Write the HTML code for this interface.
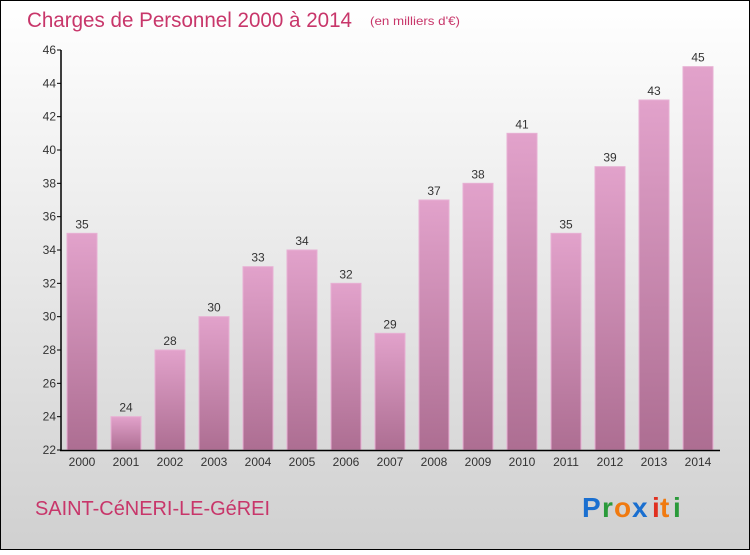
<!DOCTYPE html>
<html><head><meta charset="utf-8"><style>
body{margin:0;width:750px;height:550px;overflow:hidden;font-family:"Liberation Sans",sans-serif}
</style></head><body>
<svg width="750" height="550" xmlns="http://www.w3.org/2000/svg" id="svg">
<defs>
<linearGradient id="bg" x1="0" y1="0" x2="0" y2="1"><stop offset="0" stop-color="#ffffff"/><stop offset="1" stop-color="#d0d0d0"/></linearGradient>
<linearGradient id="bar" x1="0" y1="0" x2="0" y2="1"><stop offset="0" stop-color="#e2a2cb"/><stop offset="1" stop-color="#ad6e92"/></linearGradient>
</defs>
<rect x="0.5" y="0.5" width="749" height="549" fill="url(#bg)" stroke="#000"/>
<text x="27" y="27" font-size="21" fill="#c8366a" textLength="325" lengthAdjust="spacingAndGlyphs">Charges de Personnel 2000 à 2014</text>
<text x="370" y="25" font-size="12" fill="#c8366a" textLength="90" lengthAdjust="spacingAndGlyphs">(en milliers d'€)</text>
<text x="35" y="515" font-size="20" fill="#c8366a" textLength="235" lengthAdjust="spacingAndGlyphs">SAINT-CéNERI-LE-GéREI</text>
<g font-size="28" font-weight="bold">
<text x="582" y="517" fill="#1a6fd0">P</text><text x="602" y="517" fill="#2a9a3a">r</text><text x="614" y="517" fill="#f07a10">o</text><text x="632" y="517" fill="#1a6fd0">x</text><text x="652" y="517" fill="#e03020">i</text><text x="660" y="517" fill="#f07a10">t</text><text x="673" y="517" fill="#2a9a3a">i</text>
</g>
<g id="g"></g>
</svg>
<script>
const years=["2000","2001","2002","2003","2004","2005","2006","2007","2008","2009","2010","2011","2012","2013","2014"];
const values=[35,24,28,30,33,34,32,29,37,38,41,35,39,43,45];
const yTicks=[22,24,26,28,30,32,34,36,38,40,42,44,46];
const NS="http://www.w3.org/2000/svg",g=document.getElementById('g');
const y=v=>450-(v-22)*400/24, x=i=>82+i*44;
function el(t,a,txt){const e=document.createElementNS(NS,t);for(const k in a)e.setAttribute(k,a[k]);if(txt!=null)e.textContent=txt;g.appendChild(e);return e;}
values.forEach((v,i)=>{
 const r=el('rect',{x:x(i)-15,y:y(v),width:30,height:450-y(v),fill:'url(#bar)',stroke:'#e8b0d4','stroke-width':1});
 
 
 const t=el('text',{x:x(i),y:y(v)-5,'font-size':12,'text-anchor':'middle',fill:'#333'},v);
 
 
 const xl=el('text',{x:x(i),y:466,'font-size':12,'text-anchor':'middle',fill:'#333'},years[i]);
 
 
});
yTicks.forEach(v=>{
 const l=el('line',{x1:57,x2:61,y1:y(v),y2:y(v),stroke:'#000'});
 
 
 const t=el('text',{x:56,y:y(v)+4,'font-size':12,'text-anchor':'end',fill:'#333'},v);
 
 
});
const ya=el('line',{x1:61,x2:61,y1:50,y2:451,stroke:'#000','stroke-width':1.5});


const xa=el('line',{x1:60,x2:720,y1:450.5,y2:450.5,stroke:'#000','stroke-width':1.5});


</script>
</body></html>
